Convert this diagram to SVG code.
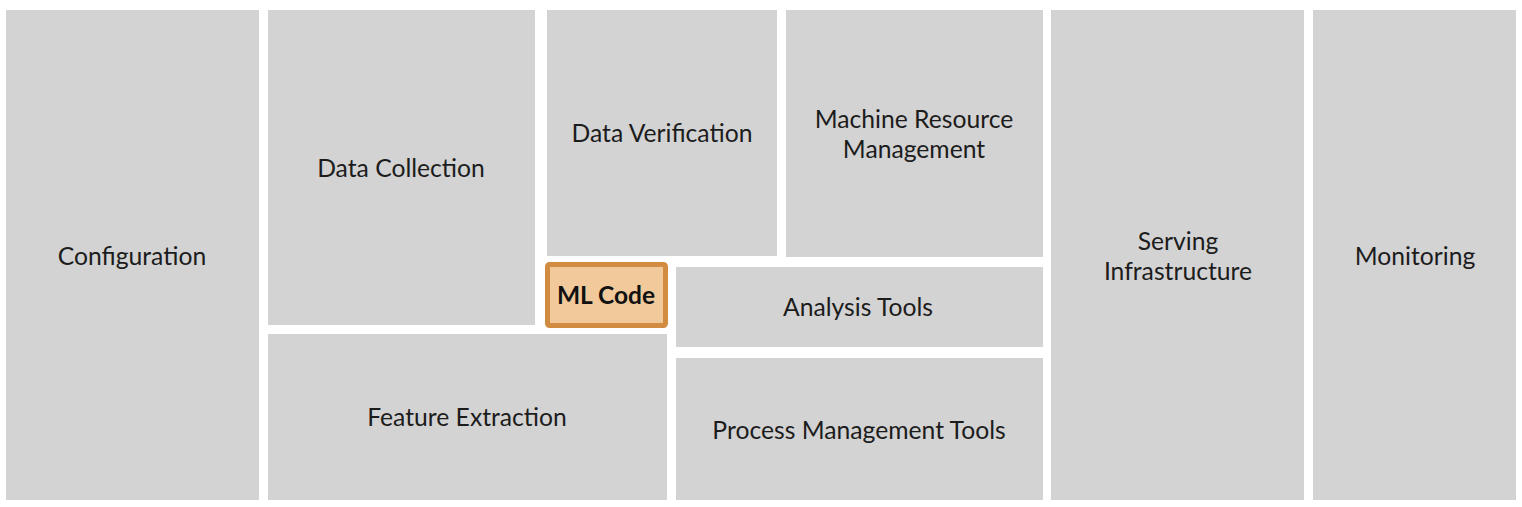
<svg xmlns="http://www.w3.org/2000/svg" width="1522" height="507" viewBox="0 0 1522 507">
<style>
.b{fill:#d3d3d3}
.t{font-family:Lato,"Open Sans",sans-serif;font-size:24.7px;fill:#1c1c1c;text-anchor:middle;dominant-baseline:central}
.ml{fill:#f2c99a;stroke:#d28c42;stroke-width:5}
.mt{font-family:Lato,"Open Sans",sans-serif;font-size:24.5px;font-weight:bold;fill:#111;text-anchor:middle;dominant-baseline:central}
</style>
<rect width="1522" height="507" fill="#ffffff"/>
<g id="configuration"><rect class="b" x="6" y="10" width="253" height="490"/><text class="t" x="132" y="255">Configuration</text></g>
<g id="data-collection"><rect class="b" x="268" y="10" width="267" height="315"/><text class="t" x="401" y="167">Data Collection</text></g>
<g id="feature-extraction"><rect class="b" x="268" y="334" width="399" height="166"/><text class="t" x="467" y="416">Feature Extraction</text></g>
<g id="data-verification"><rect class="b" x="547" y="10" width="230" height="246"/><text class="t" x="662" y="132">Data Verification</text></g>
<g id="machine-resource-management"><rect class="b" x="786" y="10" width="257" height="247"/><text class="t" x="914" y="118">Machine Resource</text><text class="t" x="914" y="148">Management</text></g>
<g id="ml-code"><rect class="ml" x="547.5" y="264.5" width="118" height="61" rx="2"/><text class="mt" x="606" y="294">ML Code</text></g>
<g id="analysis-tools"><rect class="b" x="676" y="267" width="367" height="80"/><text class="t" x="858" y="306">Analysis Tools</text></g>
<g id="process-management-tools"><rect class="b" x="676" y="358" width="367" height="142"/><text class="t" x="859" y="429">Process Management Tools</text></g>
<g id="serving-infrastructure"><rect class="b" x="1051" y="10" width="253" height="490"/><text class="t" x="1178" y="240">Serving</text><text class="t" x="1178" y="270">Infrastructure</text></g>
<g id="monitoring"><rect class="b" x="1313" y="10" width="203" height="490"/><text class="t" x="1415" y="255">Monitoring</text></g>
<g id="connectors"></g>
</svg>
